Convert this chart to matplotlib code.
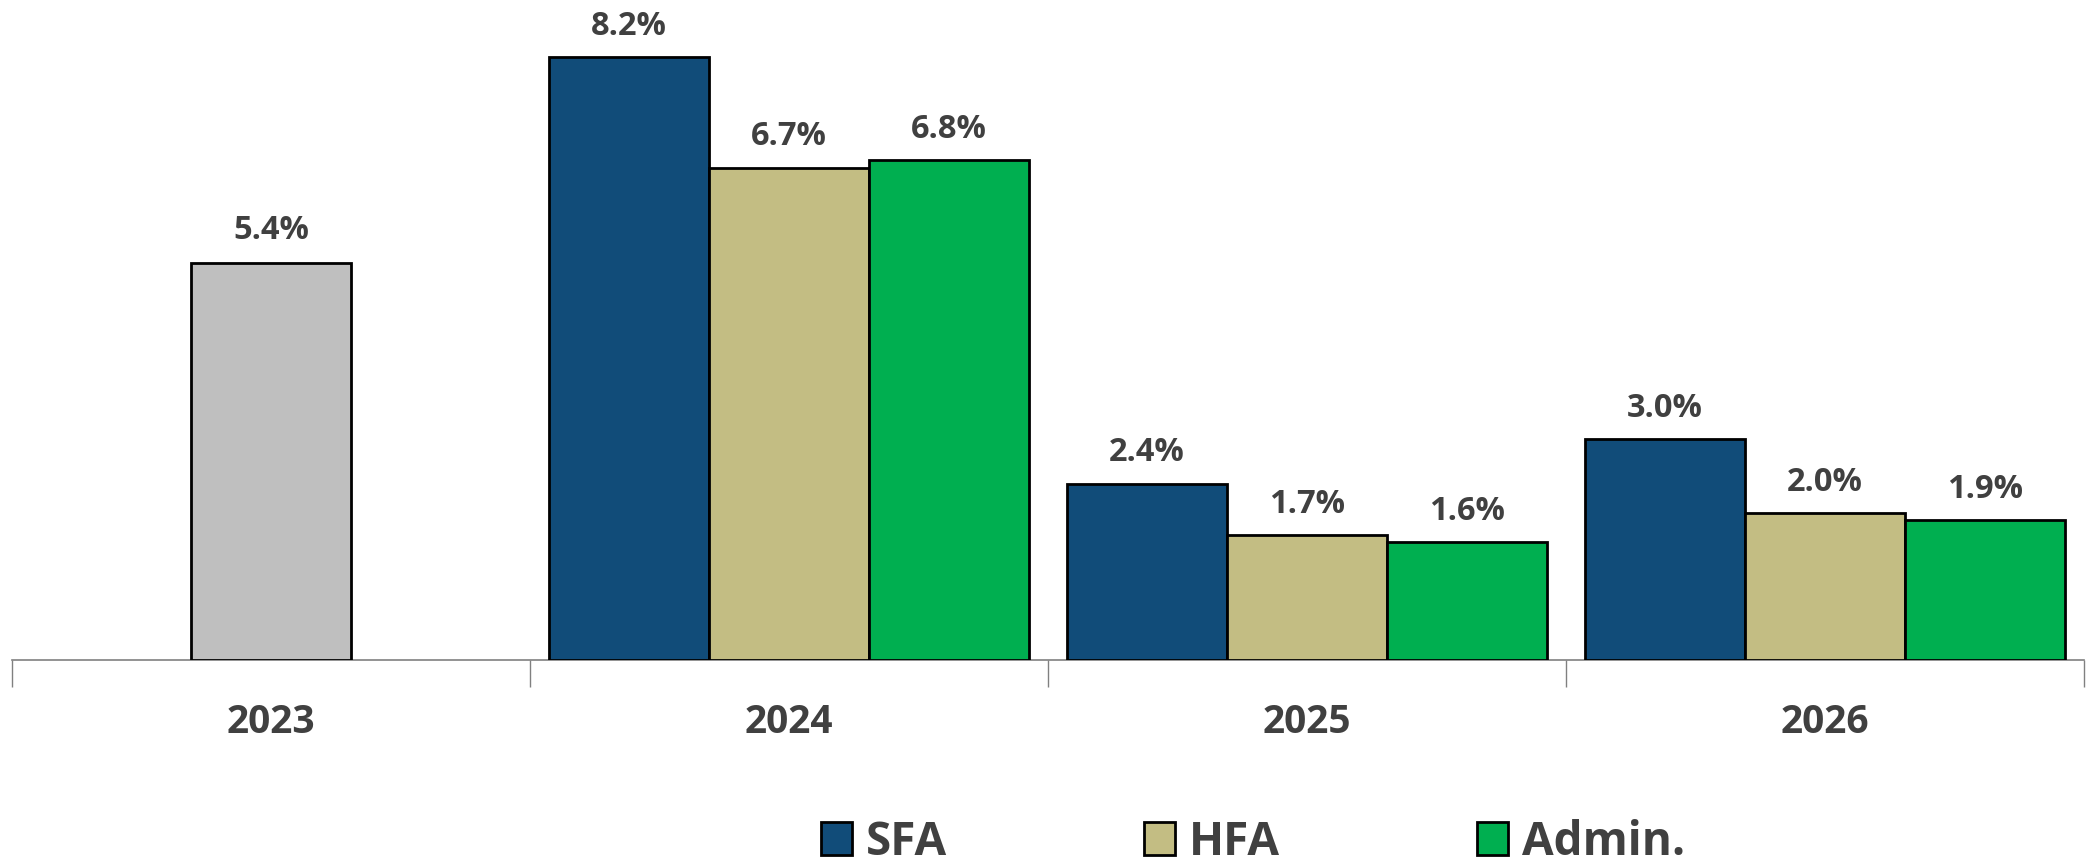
import matplotlib
matplotlib.use("Agg")
import matplotlib.pyplot as plt
from matplotlib.patches import Patch
import numpy as np

# ---- data ----
years = ["2023", "2024", "2025", "2026"]
actual_2023 = 5.4
series_names = ["SFA", "HFA", "Admin."]
sfa = [None, 8.2, 2.4, 3.0]
hfa = [None, 6.7, 1.7, 2.0]
admin = [None, 6.8, 1.6, 1.9]

colors = ["#114C79", "#C3BD83", "#00AF50"]
gray = "#BFBFBF"
txt = "#404040"

plt.rcParams["font.family"] = ["Open Sans", "DejaVu Sans"]

W, H = 2086, 863
fig = plt.figure(figsize=(W / 100, H / 100), dpi=100)
ax = fig.add_axes([12 / W, (H - 660) / H, 2072 / W, 660 / H])

x = np.arange(len(years))
bw = 0.309
ax.set_xlim(-0.5, len(years) - 0.5)
ax.set_ylim(0, 660 / 73.5)

# historical bar (2023)
ax.bar(x[0], actual_2023, width=bw, color=gray, edgecolor="black", linewidth=2, zorder=3)
ax.text(x[0], actual_2023 + 0.45, f"{actual_2023:.1f}%", ha="center", va="center",
        fontsize=23.5, fontweight="bold", color=txt)

handles = []
for i, (name, vals) in enumerate(zip(series_names, [sfa, hfa, admin])):
    xs = [xi + (i - 1) * bw for xi, v in zip(x, vals) if v is not None]
    vs = [v for v in vals if v is not None]
    ax.bar(xs, vs, width=bw, color=colors[i], edgecolor="black", linewidth=2, zorder=3)
    for xx, vv in zip(xs, vs):
        ax.text(xx, vv + 0.42, f"{vv:.1f}%", ha="center", va="center",
                fontsize=23.5, fontweight="bold", color=txt)
    handles.append(Patch(facecolor=colors[i], edgecolor="black", linewidth=2, label=name))

# axes styling
for s in ["top", "right", "left"]:
    ax.spines[s].set_visible(False)
ax.spines["bottom"].set_color("#808080")
ax.spines["bottom"].set_linewidth(1.2)
ax.set_yticks([])
ax.set_xticks(x)
ax.set_xticklabels(years)
ax.tick_params(axis="x", which="major", length=0, pad=31, labelsize=28, labelcolor=txt)
for lab in ax.get_xticklabels():
    lab.set_fontweight("bold")
ax.set_xticks(np.arange(-0.5, len(years), 1.0), minor=True)
ax.tick_params(axis="x", which="minor", length=19.4, width=1, color="#808080")

fig.legend(handles=handles, loc="center", bbox_to_anchor=(1253 / W, 21 / H),
           ncol=3, frameon=False, prop={"size": 33, "weight": "bold"},
           labelcolor=txt, handlelength=0.68, handleheight=0.7,
           handletextpad=0.3, columnspacing=4.3)

fig.savefig("out.png", dpi=100, facecolor="white")
